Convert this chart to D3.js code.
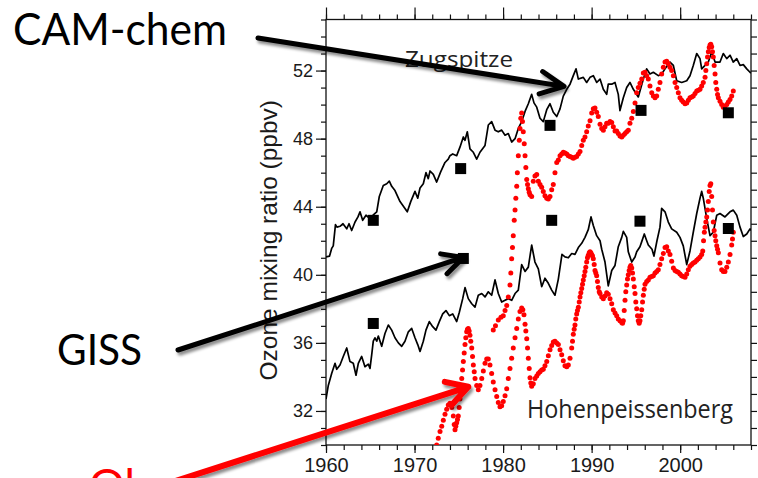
<!DOCTYPE html>
<html>
<head>
<meta charset="utf-8">
<script src="https://cdn.jsdelivr.net/npm/d3@7/dist/d3.min.js"></script>
<style>
  html, body { margin: 0; padding: 0; background: #fff; overflow: hidden; }
  svg { display: block; }
</style>
</head>
<body>
<svg id="chart" width="758" height="478"></svg>
<script>
// ---- data -------------------------------------------------------------
const yearTicks = [1960, 1970, 1980, 1990, 2000];
const ozoneTicks = [32, 36, 40, 44, 48, 52];

// CAM-chem monthly ozone, Zugspitze [year, ppbv]
const zugModel = [[1960.00,41.05],[1960.40,41.1],[1960.64,41.55],[1960.82,41.7],[1961.07,42.95],[1961.24,42.8],[1961.58,42.85],[1961.92,43.0],[1962.34,42.7],[1962.60,43.0],[1962.90,42.6],[1963.28,43.1],[1963.61,43.4],[1963.84,43.7],[1964.14,43.2],[1964.52,43.5],[1964.97,43.3],[1965.31,43.5],[1965.73,43.7],[1966.02,44.6],[1966.47,45.25],[1966.86,45.35],[1967.15,45.5],[1967.42,45.2],[1967.79,44.95],[1968.36,44.3],[1968.92,43.9],[1969.18,43.7],[1969.57,44.3],[1970.05,44.9],[1970.36,44.5],[1970.62,45.1],[1970.99,45.35],[1971.29,46.0],[1971.55,45.65],[1971.75,46.1],[1972.12,45.9],[1972.50,45.45],[1972.95,46.05],[1973.44,46.6],[1973.81,46.8],[1974.00,47.0],[1974.31,47.1],[1974.76,47.0],[1975.13,47.5],[1975.51,48.1],[1975.70,47.9],[1975.96,48.4],[1976.26,47.4],[1976.64,47.2],[1977.02,46.8],[1977.39,47.2],[1977.96,47.6],[1978.33,48.8],[1978.71,49.0],[1979.09,48.5],[1979.46,48.4],[1979.84,48.5],[1980.22,48.2],[1980.59,48.3],[1980.97,47.8],[1981.35,48.0],[1981.72,48.6],[1982.10,49.0],[1982.48,49.6],[1982.85,50.05],[1983.23,50.6],[1983.49,50.1],[1983.80,49.85],[1984.17,49.2],[1984.54,49.0],[1984.93,49.7],[1985.30,50.05],[1985.67,49.55],[1986.06,49.3],[1986.43,49.75],[1986.80,50.5],[1987.19,50.9],[1987.56,51.2],[1987.93,51.7],[1988.24,52.1],[1988.50,51.5],[1989.06,51.6],[1989.44,51.3],[1989.82,51.6],[1990.19,51.7],[1990.57,51.3],[1990.95,51.5],[1991.32,50.9],[1991.70,50.6],[1991.88,51.2],[1992.27,51.2],[1992.64,51.3],[1993.01,50.6],[1993.20,49.65],[1993.58,50.4],[1993.96,51.0],[1994.33,51.3],[1994.71,50.9],[1995.27,50.45],[1995.84,51.5],[1996.22,52.1],[1996.59,51.8],[1996.97,51.9],[1997.53,51.7],[1997.91,51.8],[1998.29,52.1],[1998.85,52.5],[1999.23,52.3],[1999.61,51.4],[2000.17,51.3],[2000.74,51.4],[2001.11,51.7],[2001.48,52.3],[2001.87,53.0],[2002.24,52.7],[2002.43,52.1],[2002.81,52.3],[2003.18,52.5],[2003.56,53.1],[2003.94,52.5],[2004.50,52.5],[2004.87,53.0],[2005.26,52.7],[2005.63,52.9],[2006.00,52.5],[2006.39,52.7],[2006.76,52.3],[2007.13,52.35],[2007.52,52.1],[2007.89,51.9],[2008.00,51.85]];

// CAM-chem monthly ozone, Hohenpeissenberg [year, ppbv]
const hohenModel = [[1960.00,32.7],[1960.26,33.5],[1960.64,34.2],[1961.02,34.8],[1961.21,34.45],[1961.58,34.7],[1961.95,35.2],[1962.34,35.7],[1962.71,34.9],[1963.08,34.8],[1963.39,34.1],[1963.65,34.8],[1964.03,35.2],[1964.40,34.6],[1964.78,34.75],[1964.97,34.5],[1965.16,35.3],[1965.34,36.1],[1965.53,36.3],[1965.73,36.1],[1965.91,36.4],[1966.29,35.8],[1966.66,36.55],[1967.04,37.05],[1967.42,36.75],[1967.79,36.3],[1968.17,36.0],[1968.55,35.8],[1968.92,36.1],[1969.30,36.65],[1969.68,36.85],[1970.05,36.3],[1970.36,35.9],[1970.62,35.5],[1970.99,36.1],[1971.29,36.75],[1971.67,37.25],[1972.05,36.95],[1972.42,36.75],[1972.80,37.25],[1973.18,37.7],[1973.55,37.9],[1973.93,37.6],[1974.31,37.7],[1974.76,37.25],[1975.06,37.8],[1975.44,38.6],[1975.70,39.25],[1976.07,38.6],[1976.46,38.3],[1976.83,38.1],[1977.20,38.8],[1977.59,38.9],[1977.96,38.7],[1978.33,39.0],[1978.71,38.8],[1979.09,39.7],[1979.46,38.9],[1979.84,38.4],[1980.22,38.5],[1980.59,38.6],[1980.97,38.5],[1981.35,38.9],[1981.72,39.1],[1982.10,40.6],[1982.48,40.2],[1982.85,40.45],[1983.23,41.75],[1983.60,40.75],[1983.98,40.35],[1984.36,39.3],[1984.73,39.8],[1985.11,39.5],[1985.49,39.1],[1985.86,38.8],[1986.24,39.75],[1986.65,41.2],[1986.99,41.05],[1987.37,41.0],[1987.75,41.25],[1988.12,41.2],[1988.50,41.6],[1988.88,41.85],[1989.25,42.2],[1989.62,42.65],[1989.93,43.4],[1990.19,42.9],[1990.57,42.3],[1990.95,42.0],[1991.14,41.5],[1991.51,40.75],[1991.88,39.35],[1992.27,40.25],[1992.64,40.55],[1993.01,41.65],[1993.40,42.2],[1993.58,42.55],[1993.96,42.2],[1994.14,41.35],[1994.53,40.75],[1994.90,41.05],[1995.09,41.35],[1995.46,41.65],[1995.66,41.95],[1995.95,42.4],[1996.22,42.0],[1996.40,41.75],[1996.82,41.5],[1997.04,41.1],[1997.38,42.0],[1997.72,42.8],[1997.91,43.9],[1998.29,43.7],[1998.66,43.1],[1999.04,42.7],[1999.61,42.5],[1999.98,42.2],[2000.35,41.7],[2000.74,40.6],[2001.11,41.4],[2001.48,42.5],[2001.87,43.6],[2002.24,44.5],[2002.43,44.9],[2002.61,44.5],[2003.00,43.3],[2003.37,42.3],[2003.74,42.5],[2004.13,43.5],[2004.50,43.6],[2005.06,43.4],[2005.63,43.7],[2006.00,43.8],[2006.39,43.5],[2006.76,42.8],[2007.13,42.25],[2007.52,42.4],[2007.89,42.7],[2008.00,42.6]];

// Observed monthly ozone, Zugspitze [year, ppbv]
const zugObs = [[1978.89,36.75],[1979.14,37.0],[1979.46,37.35],[1979.76,37.5],[1980.02,37.6],[1980.22,37.9],[1980.41,38.2],[1980.59,38.7],[1980.78,39.4],[1980.87,40.1],[1980.97,40.95],[1981.06,41.6],[1981.15,42.3],[1981.26,43.2],[1981.35,43.8],[1981.44,44.5],[1981.54,45.2],[1981.61,46.0],[1981.72,47.0],[1981.83,47.9],[1981.91,48.6],[1982.00,49.2],[1982.10,49.5],[1982.19,49.0],[1982.28,48.4],[1982.39,47.7],[1982.48,47.0],[1982.57,46.3],[1982.67,45.6],[1982.76,45.3],[1982.85,45.05],[1982.95,44.85],[1983.04,44.7],[1983.23,44.6],[1983.41,45.5],[1983.60,45.8],[1983.80,45.9],[1983.98,45.5],[1984.17,45.3],[1984.36,45.15],[1984.54,44.9],[1984.73,44.65],[1984.93,44.5],[1985.11,44.45],[1985.30,44.6],[1985.49,45.0],[1985.67,45.3],[1985.86,46.0],[1986.06,46.6],[1986.24,46.75],[1986.43,47.0],[1986.62,47.1],[1986.80,47.2],[1986.99,47.15],[1987.19,47.1],[1987.37,47.0],[1987.56,46.95],[1987.75,46.9],[1987.93,46.85],[1988.12,46.9],[1988.31,46.95],[1988.50,47.1],[1988.69,47.25],[1988.88,47.6],[1989.06,47.9],[1989.25,48.1],[1989.44,48.4],[1989.62,48.75],[1989.82,49.05],[1990.01,49.5],[1990.19,49.75],[1990.38,49.8],[1990.57,49.55],[1990.75,49.3],[1990.95,48.85],[1991.14,48.6],[1991.32,48.5],[1991.51,48.7],[1991.70,48.9],[1991.88,48.9],[1992.08,49.0],[1992.27,48.95],[1992.45,48.7],[1992.64,48.45],[1992.83,48.45],[1993.01,48.3],[1993.20,48.15],[1993.40,48.1],[1993.58,48.2],[1993.77,48.3],[1993.96,48.4],[1994.14,48.5],[1994.33,48.9],[1994.53,49.2],[1994.71,49.6],[1994.90,50.1],[1995.09,50.7],[1995.27,51.0],[1995.46,51.25],[1995.66,51.5],[1995.84,51.85],[1996.03,51.9],[1996.22,51.7],[1996.40,51.5],[1996.59,51.1],[1996.79,50.7],[1996.97,50.5],[1997.16,50.4],[1997.35,50.5],[1997.53,50.9],[1997.72,51.3],[1997.91,51.8],[1998.10,52.2],[1998.29,52.5],[1998.48,52.55],[1998.66,52.4],[1998.85,52.2],[1999.04,52.0],[1999.23,51.7],[1999.42,51.3],[1999.61,51.0],[1999.79,50.7],[1999.98,50.4],[2000.17,50.25],[2000.35,50.15],[2000.55,50.05],[2000.74,50.1],[2000.92,50.25],[2001.11,50.4],[2001.30,50.45],[2001.48,50.5],[2001.68,50.65],[2001.87,50.8],[2002.05,50.85],[2002.24,50.9],[2002.43,51.1],[2002.61,51.3],[2002.81,51.6],[2002.90,52.0],[2003.00,52.4],[2003.09,52.8],[2003.18,53.1],[2003.28,53.35],[2003.37,53.5],[2003.46,53.55],[2003.56,53.4],[2003.65,53.1],[2003.74,52.8],[2003.84,52.3],[2003.94,51.8],[2004.02,51.3],[2004.13,50.9],[2004.22,50.6],[2004.31,50.4],[2004.50,50.2],[2004.69,50.0],[2004.87,49.85],[2005.06,49.9],[2005.26,50.0],[2005.44,50.15],[2005.63,50.3],[2005.82,50.5],[2006.00,50.8]];

// Observed monthly ozone, Hohenpeissenberg [year, ppbv]
const hohenObs = [[1972.32,29.6],[1972.50,30.0],[1972.68,30.4],[1972.88,30.8],[1973.07,31.1],[1973.25,31.45],[1973.44,31.8],[1973.63,32.1],[1973.81,32.35],[1974.00,32.45],[1974.20,32.2],[1974.38,31.7],[1974.48,31.2],[1974.57,30.9],[1974.66,31.1],[1974.76,31.3],[1974.85,31.5],[1974.94,31.7],[1975.04,32.2],[1975.13,32.7],[1975.22,33.3],[1975.33,33.9],[1975.42,34.4],[1975.51,34.9],[1975.61,35.4],[1975.70,35.9],[1975.79,36.3],[1975.89,36.65],[1975.98,36.8],[1976.07,36.85],[1976.17,36.7],[1976.26,36.45],[1976.35,36.1],[1976.46,35.7],[1976.55,35.2],[1976.64,34.7],[1976.74,34.3],[1976.83,33.9],[1977.02,33.5],[1977.20,33.25],[1977.39,33.5],[1977.59,33.9],[1977.77,34.35],[1977.96,34.8],[1978.15,35.05],[1978.33,35.05],[1978.52,34.7],[1978.71,34.2],[1978.89,33.7],[1979.09,33.25],[1979.28,32.85],[1979.46,32.5],[1979.65,32.25],[1979.84,32.3],[1980.02,32.55],[1980.22,32.9],[1980.41,33.3],[1980.59,33.9],[1980.78,34.5],[1980.97,35.1],[1981.15,35.7],[1981.35,36.3],[1981.54,36.85],[1981.72,37.4],[1981.91,37.85],[1982.10,38.05],[1982.23,37.95],[1982.36,37.65],[1982.48,37.1],[1982.57,36.7],[1982.67,36.25],[1982.76,35.7],[1982.85,35.1],[1982.95,34.5],[1983.04,33.95],[1983.13,33.65],[1983.23,33.45],[1983.41,33.6],[1983.60,33.9],[1983.80,34.05],[1983.98,34.2],[1984.17,34.3],[1984.36,34.4],[1984.54,34.45],[1984.73,34.65],[1984.93,34.9],[1985.11,35.25],[1985.30,35.6],[1985.49,35.85],[1985.67,36.05],[1985.86,36.1],[1986.06,36.0],[1986.24,35.9],[1986.43,35.6],[1986.62,35.3],[1986.80,34.95],[1986.99,34.65],[1987.19,34.6],[1987.37,34.7],[1987.56,35.1],[1987.75,35.7],[1987.84,36.1],[1987.93,36.5],[1988.03,36.8],[1988.12,37.05],[1988.21,37.4],[1988.31,37.7],[1988.40,37.9],[1988.50,38.1],[1988.60,38.4],[1988.69,38.7],[1988.78,38.95],[1988.88,39.2],[1988.97,39.45],[1989.06,39.7],[1989.16,39.95],[1989.25,40.2],[1989.34,40.45],[1989.44,40.75],[1989.53,41.0],[1989.62,41.15],[1989.73,41.3],[1989.82,41.35],[1989.91,41.3],[1990.01,41.2],[1990.10,41.1],[1990.19,40.95],[1990.29,40.6],[1990.38,40.25],[1990.47,40.1],[1990.57,39.95],[1990.66,39.6],[1990.75,39.25],[1990.86,39.0],[1990.95,38.9],[1991.14,38.7],[1991.32,38.6],[1991.51,38.75],[1991.70,38.95],[1991.88,38.85],[1992.08,38.6],[1992.27,38.3],[1992.45,37.95],[1992.64,37.75],[1992.83,37.6],[1993.01,37.4],[1993.20,37.3],[1993.40,37.2],[1993.49,37.15],[1993.58,37.3],[1993.68,37.9],[1993.77,38.5],[1993.86,39.0],[1993.96,39.4],[1994.05,39.75],[1994.14,40.0],[1994.24,40.25],[1994.33,40.45],[1994.42,40.55],[1994.53,40.4],[1994.62,40.1],[1994.71,39.75],[1994.81,39.3],[1994.90,38.9],[1994.99,38.4],[1995.09,38.0],[1995.18,37.6],[1995.27,37.3],[1995.37,37.15],[1995.46,37.3],[1995.55,37.6],[1995.66,37.95],[1995.75,38.4],[1995.84,38.8],[1995.94,39.15],[1996.03,39.45],[1996.22,39.6],[1996.40,39.7],[1996.59,39.85],[1996.79,39.9],[1996.97,39.95],[1997.16,40.1],[1997.35,40.2],[1997.53,40.3],[1997.72,40.6],[1997.91,40.95],[1998.10,41.25],[1998.29,41.6],[1998.48,41.65],[1998.66,41.4],[1998.85,41.2],[1999.04,40.8],[1999.23,40.4],[1999.42,40.25],[1999.61,40.2],[1999.79,40.15],[1999.98,40.05],[2000.17,39.95],[2000.35,39.9],[2000.55,39.85],[2000.74,40.05],[2000.92,40.3],[2001.11,40.5],[2001.30,40.6],[2001.48,40.7],[2001.68,40.75],[2001.87,40.85],[2002.05,40.95],[2002.24,41.05],[2002.43,41.2],[2002.55,41.4],[2002.64,42.0],[2002.73,42.5],[2002.81,42.8],[2002.90,43.1],[2003.00,43.4],[2003.09,43.8],[2003.18,44.3],[2003.28,44.9],[2003.37,45.25],[2003.46,45.35],[2003.56,44.6],[2003.65,43.8],[2003.74,43.1],[2003.84,42.6],[2003.94,42.3],[2004.02,42.0],[2004.13,41.7],[2004.22,41.5],[2004.31,41.3],[2004.50,40.7],[2004.69,40.3],[2004.87,40.2],[2005.06,40.2],[2005.26,40.45],[2005.44,40.75],[2005.63,41.2],[2005.82,41.75],[2005.91,42.1],[2006.00,42.5]];

// GISS decadal values [year, ppbv]
const zugGiss = [[1965.34,43.2],[1975.21,46.24],[1985.30,48.78],[1995.58,49.66],[2005.44,49.52]];
const hohenGiss = [[1965.34,37.14],[1975.51,40.96],[1985.49,43.2],[1995.46,43.15],[2005.44,42.72]];

// ---- layout -----------------------------------------------------------
const svg = d3.select("#chart");
const plot = { left: 326, right: 751, top: 19.5, bottom: 445 };

const x = d3.scaleLinear().domain([1960, 2008]).range([plot.left, plot.right]);
const y = d3.scaleLinear().domain([30, 55]).range([plot.bottom, plot.top]);

const defs = svg.append("defs");
defs.append("clipPath").attr("id", "plotClip")
  .append("rect")
  .attr("x", plot.left).attr("y", plot.top)
  .attr("width", plot.right - plot.left).attr("height", plot.bottom - plot.top);

const shadow = defs.append("filter").attr("id", "arrowShadow")
  .attr("x", "-20%").attr("y", "-60%").attr("width", "140%").attr("height", "220%");
shadow.append("feDropShadow")
  .attr("dx", 2).attr("dy", 3).attr("stdDeviation", 1.8)
  .attr("flood-color", "#000").attr("flood-opacity", 0.45);

const axisFont = "'Liberation Sans', Arial, Helvetica, sans-serif";

// ---- axes -------------------------------------------------------------
function styleAxis(g) {
  g.select(".domain").remove();
  g.selectAll(".tick line").attr("stroke", "#111").attr("stroke-width", 1.2);
  g.selectAll(".tick text").attr("fill", "#1a1a1a").attr("font-family", axisFont);
}

const minorYears = d3.range(1960, 2009, 2);
const minorOzone = d3.range(30, 56, 1);

// bottom
svg.append("g").attr("transform", `translate(0,${plot.bottom})`)
  .call(d3.axisBottom(x).tickValues(minorYears).tickSize(5).tickFormat(""))
  .call(styleAxis);
svg.append("g").attr("transform", `translate(0,${plot.bottom})`)
  .call(d3.axisBottom(x).tickValues(yearTicks).tickSize(8).tickPadding(5).tickFormat(d3.format("d")))
  .call(styleAxis)
  .selectAll(".tick text").attr("font-size", 20);

// top
svg.append("g").attr("transform", `translate(0,${plot.top})`)
  .call(d3.axisTop(x).tickValues(minorYears).tickSize(5).tickFormat(""))
  .call(styleAxis);
svg.append("g").attr("transform", `translate(0,${plot.top})`)
  .call(d3.axisTop(x).tickValues(yearTicks).tickSize(12).tickFormat(""))
  .call(styleAxis);

// left
svg.append("g").attr("transform", `translate(${plot.left},0)`)
  .call(d3.axisLeft(y).tickValues(minorOzone).tickSize(5).tickFormat(""))
  .call(styleAxis);
svg.append("g").attr("transform", `translate(${plot.left},0)`)
  .call(d3.axisLeft(y).tickValues(ozoneTicks).tickSize(10).tickPadding(3).tickFormat(d3.format("d")))
  .call(styleAxis)
  .selectAll(".tick text").attr("font-size", 18);

// right
svg.append("g").attr("transform", `translate(${plot.right},0)`)
  .call(d3.axisRight(y).tickValues(minorOzone).tickSize(6).tickFormat(""))
  .call(styleAxis);

// frame
svg.append("rect")
  .attr("x", plot.left).attr("y", plot.top)
  .attr("width", plot.right - plot.left).attr("height", plot.bottom - plot.top)
  .attr("fill", "none").attr("stroke", "#111").attr("stroke-width", 1.3);

// axis title
svg.append("text")
  .attr("transform", `translate(277,${(plot.top + plot.bottom) / 2 + 8}) rotate(-90)`)
  .attr("text-anchor", "middle")
  .attr("font-family", axisFont).attr("font-size", 24.5).attr("fill", "#1a1a1a")
  .text("Ozone mixing ratio (ppbv)");

// ---- data marks -------------------------------------------------------
const marks = svg.append("g").attr("clip-path", "url(#plotClip)");
const line = d3.line().x(d => x(d[0])).y(d => y(d[1]));

[zugModel, hohenModel].forEach(series => {
  marks.append("path").datum(series)
    .attr("d", line)
    .attr("fill", "none").attr("stroke", "#000")
    .attr("stroke-width", 1.7).attr("stroke-linejoin", "round");
});

[zugObs, hohenObs].forEach(series => {
  marks.append("g").selectAll("circle").data(series).join("circle")
    .attr("cx", d => x(d[0])).attr("cy", d => y(d[1]))
    .attr("r", 2.5).attr("fill", "#ff0000");
});

const sq = 11;
[zugGiss, hohenGiss].forEach(series => {
  marks.append("g").selectAll("rect").data(series).join("rect")
    .attr("x", d => x(d[0]) - sq / 2).attr("y", d => y(d[1]) - sq / 2)
    .attr("width", sq).attr("height", sq).attr("fill", "#000");
});

// station names
const stationFont = "'Open Sans', 'Noto Sans', sans-serif";
svg.append("text").attr("x", 405).attr("y", 67)
  .attr("font-family", stationFont).attr("font-size", 21).attr("fill", "#222")
  .attr("textLength", 108).attr("lengthAdjust", "spacingAndGlyphs")
  .text("Zugspitze");
svg.append("text").attr("x", 527).attr("y", 418)
  .attr("font-family", stationFont).attr("font-size", 25).attr("fill", "#222")
  .attr("textLength", 206).attr("lengthAdjust", "spacingAndGlyphs")
  .text("Hohenpeissenberg");

// ---- annotation arrows and labels -------------------------------------
const labelFont = "Lato, 'Open Sans', sans-serif";

function arrow(tail, tipData, color, width, headLen, headAngle) {
  const tip = [x(tipData[0]), y(tipData[1])];
  const ang = Math.atan2(tip[1] - tail[1], tip[0] - tail[0]);
  const arm = a => [tip[0] - headLen * Math.cos(ang + a), tip[1] - headLen * Math.sin(ang + a)];
  const p = d3.path();
  p.moveTo(tail[0], tail[1]); p.lineTo(tip[0], tip[1]);
  const a1 = arm(headAngle), a2 = arm(-headAngle);
  p.moveTo(a1[0], a1[1]); p.lineTo(tip[0], tip[1]); p.lineTo(a2[0], a2[1]);
  svg.append("path").attr("d", p.toString())
    .attr("fill", "none").attr("stroke", color).attr("stroke-width", width)
    .attr("stroke-linejoin", "round").attr("stroke-linecap", "round")
    .attr("filter", "url(#arrowShadow)");
}

arrow([258, 38], [1986.88, 51.07], "#000", 5, 26, 0.45);
arrow([178, 350], [1975.51, 41.02], "#000", 5, 23, 0.47);
arrow([160, 486], [1976.07, 33.42], "#ff0000", 6, 24, 0.52);

svg.append("text").attr("x", 13).attr("y", 45)
  .attr("font-family", labelFont).attr("font-size", 44).attr("fill", "#000")
  .attr("textLength", 214).attr("lengthAdjust", "spacingAndGlyphs")
  .text("CAM-chem");
svg.append("text").attr("x", 57).attr("y", 365)
  .attr("font-family", labelFont).attr("font-size", 42).attr("fill", "#000")
  .attr("textLength", 85).attr("lengthAdjust", "spacingAndGlyphs")
  .text("GISS");
// label sits partly below the slide edge
svg.append("text").attr("x", 89).attr("y", 501)
  .attr("font-family", labelFont).attr("font-size", 45).attr("fill", "#ff0000")
  .text("Obs");
</script>
</body>
</html>
